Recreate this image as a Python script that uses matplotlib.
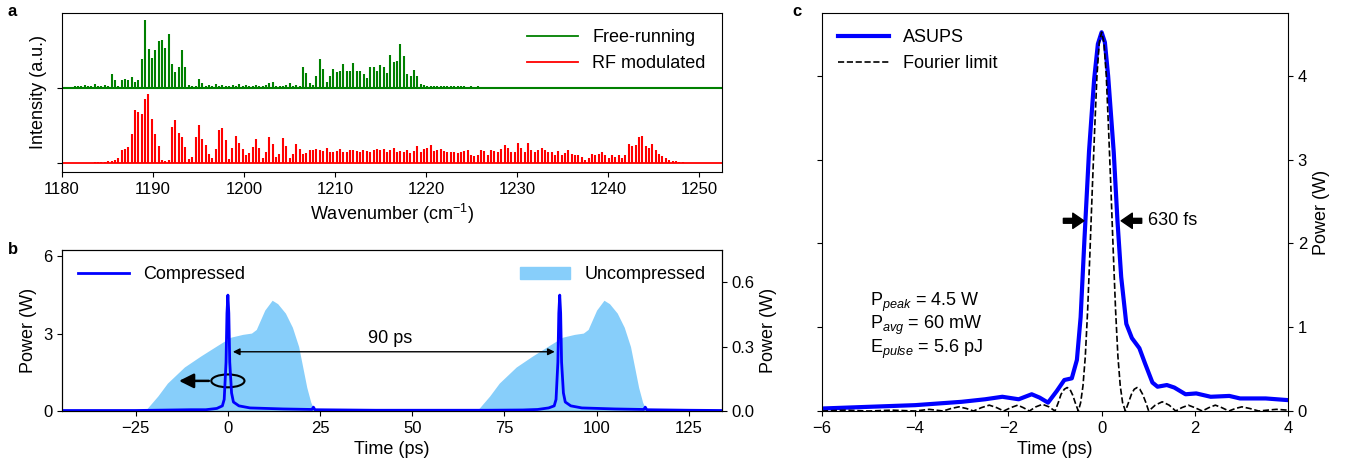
import numpy as np
import matplotlib
matplotlib.use('Agg')
import matplotlib.pyplot as plt
from matplotlib.patches import Ellipse, Patch
from matplotlib.lines import Line2D

plt.rcParams['font.family'] = ['Liberation Sans', 'DejaVu Sans']
plt.rcParams['font.size'] = 13
plt.rcParams['xtick.labelsize'] = 12
plt.rcParams['ytick.labelsize'] = 12
plt.rcParams['mathtext.fontset'] = 'custom'
plt.rcParams['mathtext.rm'] = 'Liberation Sans'
plt.rcParams['mathtext.it'] = 'Liberation Sans:italic'

# ---- panel a: comb spectra (line heights) ----
comb_step = 0.369          # cm-1 between comb lines
red_start = 1183.6
green_start = 1181.39
green_offset = 1.0

red_h = [0.01, 0.01, 0.015, 0.015,
         0.02, 0.03, 0.04, 0.07, 0.17, 0.19, 0.21, 0.38, 0.71, 0.68,
         0.65, 0.85, 0.92, 0.58, 0.38, 0.22, 0.04, 0.02, 0.04, 0.48,
         0.57, 0.40, 0.35, 0.21, 0.05, 0.08, 0.34, 0.51, 0.32, 0.24,
         0.12, 0.06, 0.19, 0.44, 0.47, 0.30, 0.05, 0.20, 0.36, 0.27,
         0.19, 0.10, 0.13, 0.21, 0.32, 0.20, 0.06, 0.14, 0.35, 0.25,
         0.08, 0.12, 0.33, 0.23, 0.06, 0.12, 0.25, 0.19, 0.12, 0.13,
         0.17, 0.17, 0.18, 0.17, 0.16,
         0.20, 0.15, 0.14, 0.16, 0.19, 0.15, 0.14, 0.17, 0.17, 0.16,
         0.14, 0.17, 0.16, 0.15, 0.17, 0.19,
         0.17, 0.19, 0.15, 0.17, 0.20, 0.14, 0.16, 0.15, 0.17, 0.13,
         0.16, 0.23, 0.14, 0.19, 0.20, 0.24, 0.16, 0.17, 0.19, 0.16,
         0.15, 0.14, 0.14, 0.13, 0.15, 0.16, 0.17, 0.11, 0.09, 0.10,
         0.17, 0.16, 0.11, 0.17, 0.16, 0.14, 0.19, 0.24, 0.20, 0.14,
         0.15, 0.26, 0.20, 0.15, 0.26, 0.17, 0.14, 0.17, 0.20, 0.17,
         0.14, 0.15, 0.11, 0.16, 0.11, 0.13, 0.17, 0.12, 0.11, 0.10,
         0.08, 0.04, 0.06, 0.12, 0.11, 0.12, 0.15, 0.10, 0.07, 0.11,
         0.08, 0.11, 0.07, 0.11, 0.25, 0.22, 0.24, 0.34, 0.36, 0.22,
         0.20, 0.25, 0.17, 0.12, 0.09, 0.06, 0.04, 0.03, 0.02, 0.01, 0.01]

green_h = [0.02, 0.03, 0.02, 0.04, 0.02, 0.03, 0.05, 0.02, 0.03, 0.04,
           0.03,
           0.18, 0.11, 0.03, 0.10, 0.12, 0.10, 0.14, 0.08, 0.10, 0.38,
           0.90, 0.52, 0.40, 0.50, 0.62, 0.64, 0.53, 0.72, 0.32, 0.21,
           0.28, 0.50, 0.28,
           0.04, 0.03, 0.03, 0.12, 0.06,
           0.03, 0.04, 0.02, 0.05, 0.03, 0.04, 0.03, 0.02, 0.04, 0.03,
           0.05, 0.03, 0.04, 0.02, 0.03, 0.04, 0.03, 0.02, 0.04,
           0.06, 0.08, 0.03, 0.02, 0.03, 0.04, 0.07, 0.03, 0.04, 0.03,
           0.28, 0.20, 0.07, 0.04, 0.16, 0.39, 0.25,
           0.08, 0.16, 0.25, 0.21, 0.23, 0.32, 0.22, 0.23, 0.33, 0.22,
           0.22, 0.18, 0.13, 0.28, 0.28, 0.23, 0.31, 0.28, 0.20, 0.44,
           0.35, 0.36, 0.59, 0.43, 0.18, 0.16, 0.24, 0.16,
           0.05, 0.04, 0.03, 0.03, 0.02, 0.03, 0.02, 0.02, 0.03, 0.02,
           0.02, 0.02, 0.02, 0.02, 0.01, 0.02, 0.01, 0.02]

# ---- panel b: pulse trains ----
comp_t = [-45, -25, -10, -6, -3, -1.5, -1.0, -0.5, -0.25, 0, 0.25, 0.5, 1.0, 1.5,
          3, 6, 15, 22.8, 23.2, 23.6, 40, 70, 80, 84, 87, 88.5, 89, 89.5, 89.75,
          90, 90.25, 90.5, 91, 91.5, 93, 96, 105, 112.8, 113.2, 113.6, 125, 134]
comp_p = [0.02, 0.02, 0.05, 0.05, 0.1, 0.2, 0.45, 1.9, 3.8, 4.5, 3.8, 1.9, 0.7, 0.35,
          0.2, 0.12, 0.08, 0.06, 0.15, 0.05, 0.03, 0.03, 0.04, 0.06, 0.12, 0.2, 0.45,
          1.9, 3.8, 4.5, 3.8, 1.9, 0.7, 0.35, 0.2, 0.12, 0.08, 0.06, 0.15, 0.05, 0.03, 0.02]

unc_t = [-23, -22, -19, -16.4, -11.8, -7.4, -2.7, 0.8, 4, 6.4, 7.7, 10, 12, 13.5,
         15.6, 17.5, 19.2, 21.4, 22.5, 23.3, 24]
unc_p = [0.005, 0.01, 0.07, 0.13, 0.205, 0.256, 0.307, 0.344, 0.357, 0.363, 0.38,
         0.47, 0.516, 0.50, 0.456, 0.39, 0.30, 0.11, 0.04, 0.01, 0.005]
rep_period = 90

# ---- panel c: compressed pulse vs Fourier limit ----
asups_t = [-6, -4, -3, -2.5, -2.13, -1.78, -1.5, -1.33, -1.15, -0.96, -0.8, -0.64,
           -0.53, -0.45, -0.37, -0.27, -0.16, -0.08, 0, 0.07, 0.14, 0.26, 0.34, 0.42,
           0.53, 0.65, 0.81, 0.93, 1.09, 1.2, 1.4, 1.56, 1.8, 2.03, 2.34, 2.74, 2.97,
           3.52, 4]
asups_p = [0.03, 0.07, 0.11, 0.14, 0.17, 0.14, 0.2, 0.16, 0.10, 0.24, 0.37, 0.39,
           0.61, 1.12, 2.03, 3.1, 3.96, 4.38, 4.52, 4.4, 4.0, 3.09, 2.27, 1.6,
           1.04, 0.87, 0.75, 0.57, 0.34, 0.29, 0.31, 0.28, 0.2, 0.21, 0.17, 0.18,
           0.15, 0.15, 0.13]

fl_t = [-6, -5.5, -5, -4.5, -4, -3.85, -3.7, -3.55, -3.4, -3.23, -3.06, -2.9, -2.75,
        -2.58, -2.41, -2.25, -2.1, -1.95, -1.8, -1.68, -1.55, -1.41, -1.27, -1.13,
        -1.0, -0.93, -0.87, -0.8, -0.74, -0.68, -0.62, -0.56, -0.5, -0.45, -0.4,
        -0.35, -0.3, -0.25, -0.2, -0.15, -0.1, -0.05, 0, 0.05, 0.1, 0.15, 0.2, 0.25,
        0.3, 0.35, 0.4, 0.45, 0.51, 0.57, 0.64, 0.7, 0.76, 0.82, 0.88, 0.95, 1.01,
        1.15, 1.3, 1.45, 1.59, 1.72, 1.86, 2.0, 2.16, 2.3, 2.44, 2.58, 2.73, 2.87,
        3.01, 3.18, 3.37, 3.55, 3.75, 4]
fl_p = [0, 0.01, 0, 0.01, 0, 0.01, 0.02, 0.01, 0, 0.03, 0.05, 0.03, 0,
        0.04, 0.07, 0.04, 0, 0.04, 0.07, 0.04, 0, 0.05, 0.08, 0.05,
        0, 0.1, 0.2, 0.26, 0.28, 0.26, 0.19, 0.09, 0, 0.1, 0.3,
        0.65, 1.2, 1.9, 2.65, 3.35, 4.0, 4.4, 4.52, 4.4, 4.0, 3.35, 2.65, 1.9,
        1.2, 0.65, 0.3, 0.1, 0, 0.09, 0.2, 0.26, 0.28, 0.26, 0.2, 0.1, 0,
        0.07, 0.11, 0.07, 0, 0.04, 0.07, 0.04, 0, 0.04, 0.07, 0.04, 0, 0.03,
        0.05, 0.03, 0, 0.01, 0.02, 0.01]

fig = plt.figure(figsize=(13.53, 4.72), dpi=100)

# panel a
ax_a = fig.add_axes([0.0458, 0.6356, 0.4878, 0.3369])
red_wn = red_start + comb_step * np.arange(len(red_h))
green_wn = green_start + comb_step * np.arange(len(green_h))
ax_a.axhline(green_offset, color='green', lw=1.5)
ax_a.vlines(green_wn, green_offset, green_offset + np.array(green_h), color='green', lw=1.5)
ax_a.axhline(0, color='red', lw=1.3)
ax_a.vlines(red_wn, 0, red_h, color='red', lw=1.5)
ax_a.set_xlim(1180, 1252.5)
ax_a.set_ylim(-0.12, 2.0)
ax_a.set_xticks(np.arange(1180, 1251, 10))
ax_a.set_yticks([0, green_offset])
ax_a.set_yticklabels([])
ax_a.set_xlabel('Wavenumber (cm$^{-1}$)')
ax_a.set_ylabel('Intensity (a.u.)')
handles_a = [Line2D([], [], color='green', lw=1.3), Line2D([], [], color='red', lw=1.3)]
ax_a.legend(handles_a, ['Free-running', 'RF modulated'], loc='upper right', frameon=False,
            handlelength=2.8)

# panel b
ax_b = fig.add_axes([0.0458, 0.1292, 0.4878, 0.3411])
ax_b2 = ax_b.twinx()
unc_t_all = np.concatenate([unc_t, np.array(unc_t) + rep_period])
unc_p_all = np.concatenate([unc_p, unc_p])
ax_b2.fill_between(unc_t_all, 0, unc_p_all, color='lightskyblue', lw=0)
ax_b.plot(comp_t, comp_p, color='blue', lw=2)
ax_b.set_zorder(ax_b2.get_zorder() + 1)
ax_b.patch.set_visible(False)
ax_b.set_xlim(-45, 134)
ax_b.set_ylim(0, 6.25)
ax_b2.set_ylim(0, 0.75)
ax_b.set_xticks([-25, 0, 25, 50, 75, 100, 125])
ax_b.set_yticks([0, 3, 6])
ax_b2.set_yticks([0.0, 0.3, 0.6])
ax_b2.set_yticklabels(['0.0', '0.3', '0.6'])
ax_b.set_xlabel('Time (ps)')
ax_b.set_ylabel('Power (W)')
ax_b2.set_ylabel('Power (W)')
ax_b.legend([Line2D([], [], color='blue', lw=2)], ['Compressed'], loc='upper left',
            frameon=False, handlelength=2.8)
ax_b2.legend([Patch(color='lightskyblue')], ['Uncompressed'], loc='upper right',
             frameon=False, handlelength=2.8)
ax_b.annotate('', xy=(0.6, 2.3), xytext=(89.4, 2.3),
              arrowprops=dict(arrowstyle='<|-|>', lw=1, color='k', mutation_scale=10))
ax_b.text(44, 2.5, '90 ps', ha='center', va='bottom')
ax_b.add_patch(Ellipse((0, 1.17), width=9, height=0.5, fill=False, lw=1.5, ec='k'))
ax_b.annotate('', xy=(-14, 1.17), xytext=(-4.4, 1.17),
              arrowprops=dict(arrowstyle='-|>', lw=1.8, color='k', mutation_scale=22))

# panel c
ax_c = fig.add_axes([0.6075, 0.1292, 0.3445, 0.8433])
ax_c.plot(asups_t, asups_p, color='blue', lw=3, label='ASUPS')
ax_c.plot(fl_t, fl_p, color='k', ls='--', lw=1.2, label='Fourier limit')
ax_c.set_xlim(-6, 4)
ax_c.set_ylim(0, 4.75)
ax_c.set_xticks([-6, -4, -2, 0, 2, 4])
ax_c.set_yticks([0, 1, 2, 3, 4])
ax_c.tick_params(axis='y', left=True, right=True, labelleft=False, labelright=True)
ax_c.yaxis.set_label_position('right')
ax_c.set_ylabel('Power (W)')
ax_c.set_xlabel('Time (ps)')
ax_c.legend(loc='upper left', frameon=False, handlelength=2.8)
arrow_kw = dict(facecolor='black', edgecolor='black', width=3.5, headwidth=11,
                headlength=8, shrink=0)
ax_c.annotate('', xy=(-0.38, 2.27), xytext=(-0.82, 2.27), arrowprops=arrow_kw)
ax_c.annotate('', xy=(0.42, 2.27), xytext=(0.86, 2.27), arrowprops=arrow_kw)
ax_c.text(1.0, 2.27, '630 fs', ha='left', va='center')
ax_c.text(-4.97, 1.3, 'P$_{peak}$ = 4.5 W', va='center')
ax_c.text(-4.97, 1.02, 'P$_{avg}$ = 60 mW', va='center')
ax_c.text(-4.97, 0.74, 'E$_{pulse}$ = 5.6 pJ', va='center')

fig.text(8 / 1353, 1 - 4 / 472, 'a', weight='bold', va='top', fontsize=12)
fig.text(8 / 1353, 1 - 242 / 472, 'b', weight='bold', va='top', fontsize=12)
fig.text(792 / 1353, 1 - 4 / 472, 'c', weight='bold', va='top', fontsize=12)

fig.savefig('out.png', dpi=100)
